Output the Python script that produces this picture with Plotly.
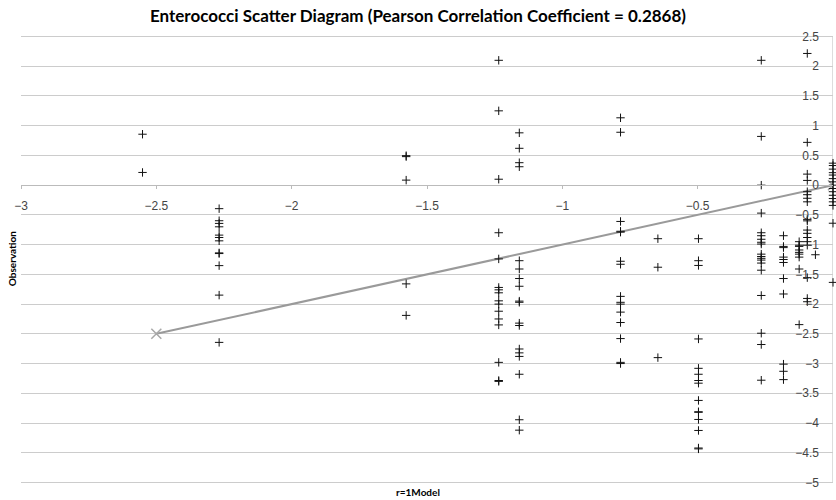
import plotly.graph_objects as go

# ---- data: modelled value (x) and observations (y) per column ----
col_x = [-2.551, -2.268, -1.577, -1.235, -1.159, -0.785, -0.647, -0.497,
         -0.265, -0.183, -0.125, -0.095, -0.065, 0.0]
col_y = [
    [0.857, 0.214],
    [-0.395, -0.598, -0.643, -0.70, -0.84, -0.88, -0.936, -1.139, -1.15, -1.353, -1.849, -2.644],
    [0.496, 0.48, 0.085, -1.66, -2.19],
    [2.10, 1.25, 0.10, -0.80, -1.24, -1.72, -1.76, -1.81, -1.945, -2.0, -2.12, -2.25, -2.35,
     -2.98, -3.285, -3.30],
    [0.88, 0.62, 0.378, 0.31, -1.27, -1.41, -1.57, -1.70, -1.95, -1.97, -2.32, -2.36, -2.755,
     -2.82, -2.88, -3.18, -3.945, -4.12],
    [1.133, 0.89, -0.61, -0.775, -0.79, -1.28, -1.33, -1.87, -1.97, -2.0, -2.135, -2.31, -2.58,
     -2.98, -3.0],
    [-0.90, -1.38, -2.90],
    [-0.90, -1.27, -1.35, -2.586, -3.08, -3.18, -3.285, -3.33, -3.62, -3.81, -3.82, -3.94,
     -4.125, -4.42, -4.435],
    [2.10, 0.82, 0.0, -0.47, -0.80, -0.85, -0.91, -0.96, -0.99, -1.16, -1.20, -1.23, -1.26,
     -1.31, -1.43, -1.855, -2.49, -2.68, -3.28],
    [-0.85, -1.03, -1.05, -1.21, -1.25, -1.30, -1.57, -1.83, -3.01, -3.13, -3.27],
    [-0.95, -1.01, -1.03, -1.09, -1.13, -1.16, -1.21, -1.41, -2.345],
    [2.215, 0.72, 0.186, 0.08, -0.11, -0.16, -0.22, -0.28, -0.575, -0.60, -0.755, -0.81, -0.88,
     -0.95, -1.01, -1.555, -1.905, -1.96],
    [-1.17],
    [0.37, 0.33, 0.27, 0.21, 0.17, 0.11, 0.056, 0.0, -0.056, -0.11, -0.17, -0.225, -0.28,
     -0.34, -0.64, -1.635],
]
line_x = [-2.5, 0.0]
line_y = [-2.5, 0.0]

title_text = "Enterococci Scatter Diagram (Pearson Correlation Coefficient = 0.2868)"
x_title = "r=1Model"
y_title = "Observation"

xs, ys = [], []
for cx, vals in zip(col_x, col_y):
    for v in vals:
        xs.append(cx)
        ys.append(v)

# axis extents (padding beyond the gridded -5..2.5 so edge labels fit)
y_min, y_max = -5.0, 2.5
pad = 0.16
y_lo, y_hi = y_min - pad, y_max + pad
x_lo, x_hi = -3.0, 0.0

px_per_unit = 59.4
top_px = 36.5 - pad * px_per_unit
bot_px = 482 + pad * px_per_unit

fig = go.Figure()
fig.add_trace(go.Scatter(
    x=line_x, y=line_y, mode="lines+markers",
    line=dict(color="#9a9a9a", width=2),
    marker=dict(symbol="x-thin", size=10, line=dict(color="#a8a8a8", width=1.5)),
    showlegend=False, hoverinfo="skip"))
fig.add_trace(go.Scatter(
    x=xs, y=ys, mode="markers",
    marker=dict(symbol="cross-thin", size=6, color="#000000",
                line=dict(color="#111111", width=1)),
    showlegend=False, cliponaxis=False))

tick_font = dict(family="Liberation Sans, Arial, sans-serif", size=12, color="#444444")

fig.update_layout(
    width=836, height=500,
    margin=dict(l=21, r=3, t=round(top_px), b=round(500 - bot_px)),
    paper_bgcolor="white", plot_bgcolor="white",
    title=dict(text="<b>" + title_text + "</b>", x=0.5, xanchor="center",
               y=1 - 16 / 500, yanchor="middle",
               font=dict(family="Lato, Open Sans, sans-serif", size=17, color="#000000")),
    xaxis=dict(range=[x_lo, x_hi], dtick=0.5, tick0=0, anchor="free",
               position=(0 - y_lo) / (y_hi - y_lo),
               showgrid=False, zeroline=False, showline=True, linecolor="#bbbbbb",
               linewidth=1, ticks="outside", ticklen=3, tickcolor="#bbbbbb",
               tickfont=tick_font, ticklabelstandoff=6),
    yaxis=dict(range=[y_lo, y_hi], dtick=0.5, tick0=0, side="right",
               ticklabelposition="inside", showgrid=True, gridcolor="#cccccc",
               gridwidth=1, zeroline=False, showline=False,
               ticks="", tickfont=tick_font, ticklabelstandoff=11),
    shapes=[dict(type="line", xref="x", yref="y", x0=x_hi, x1=x_hi, y0=y_min, y1=y_max,
                 line=dict(color="#bbbbbb", width=1), layer="below")],
    annotations=[
        dict(text="<b>" + x_title + "</b>", xref="paper", yref="paper",
             x=(418 - 21) / (833 - 21), y=-(492 - bot_px) / (bot_px - top_px),
             xanchor="center", yanchor="middle", showarrow=False,
             font=dict(family="Lato, Open Sans, sans-serif", size=10, color="#000000")),
        dict(text="<b>" + y_title + "</b>", xref="paper", yref="paper",
             x=-(21 - 12) / (833 - 21), y=(bot_px - 259) / (bot_px - top_px), textangle=-90,
             xanchor="center", yanchor="middle", showarrow=False,
             font=dict(family="Lato, Open Sans, sans-serif", size=10, color="#000000")),
    ],
)

fig.write_html("out.html")
